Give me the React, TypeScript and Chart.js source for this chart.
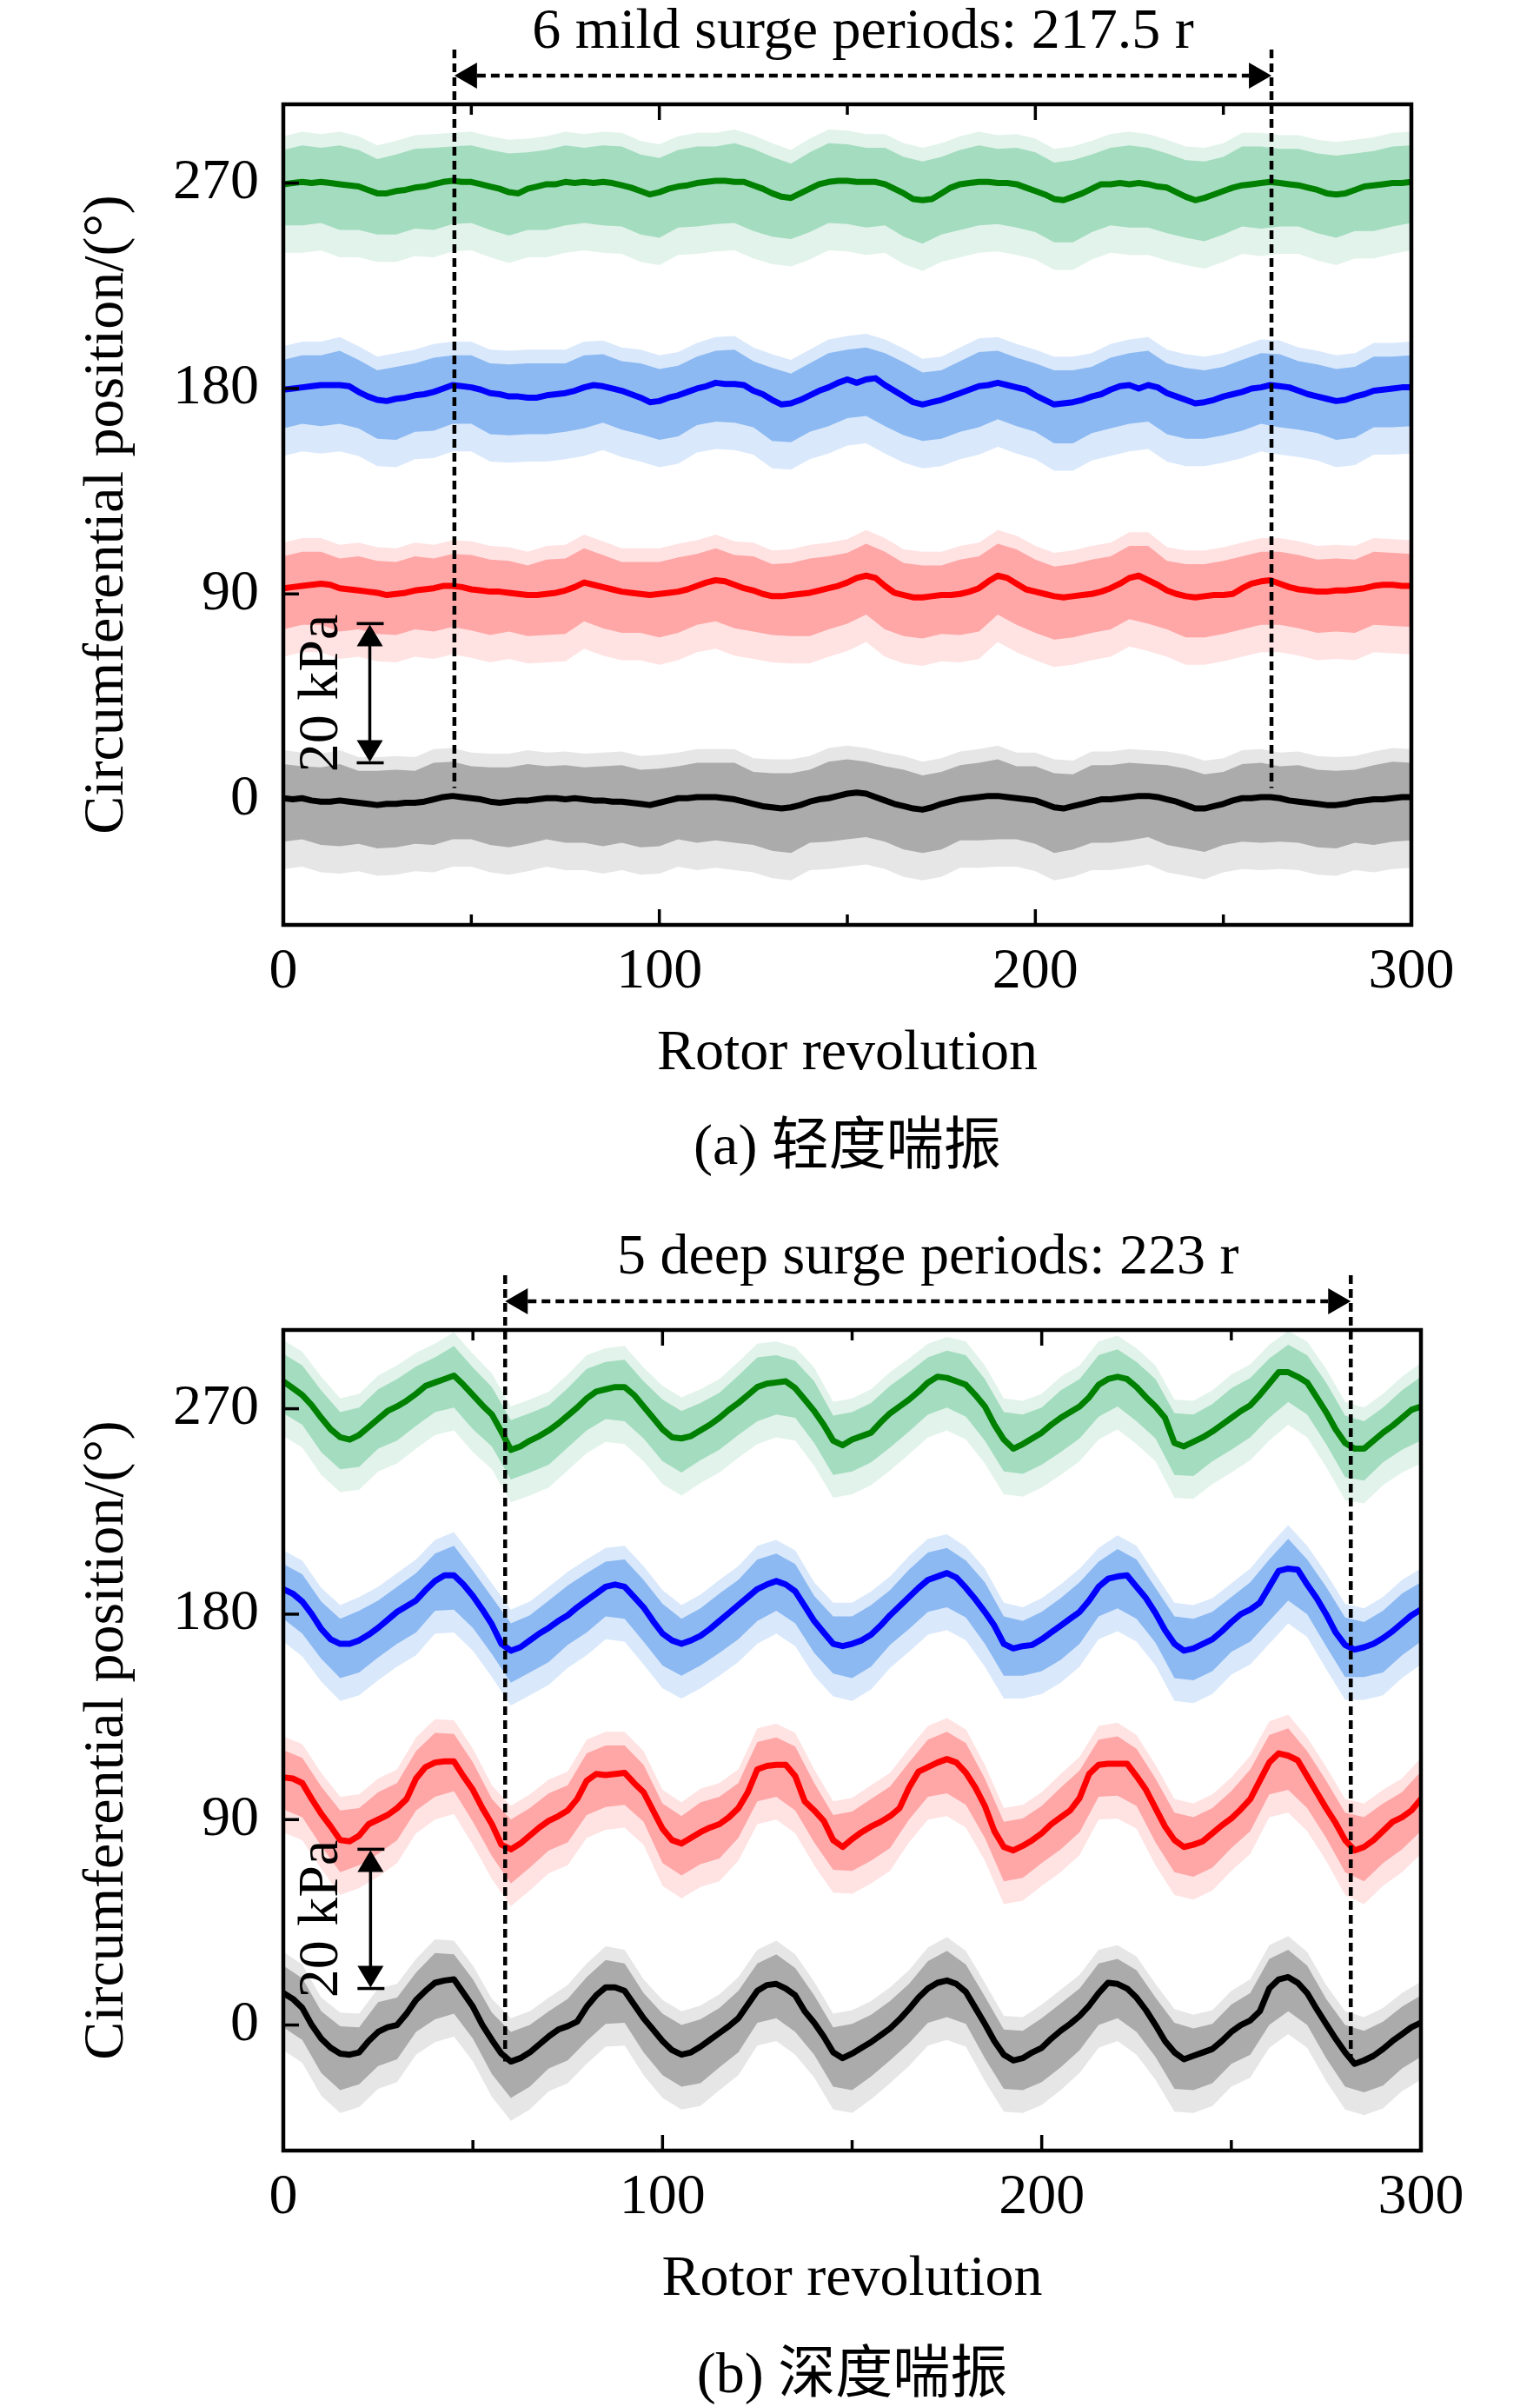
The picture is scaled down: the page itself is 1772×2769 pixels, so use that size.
import React, { useEffect, useRef } from "react";
import { Chart, registerables } from "chart.js";

Chart.register(...registerables);

const FONT = "'Liberation Serif', 'Times New Roman', serif";
const CJK_FONT = "'Liberation Serif', 'Noto Sans CJK SC', serif";

// sampling steps of the arrays below (rotor revolutions)
const LINE_STEP = 2.5;
const BAND_STEP = 5;

const xMajorTicks = [0, 100, 200, 300];
const xMinorTicks = [50, 150, 250];
const yTicks = [0, 90, 180, 270];
const yMin = -55;
const yMax = 304.5;

// ---------- (a) mild surge: smoothed signals, every 2.5 r ----------
const mildGreen = [
  269.5, 270, 270.5, 270, 270.5, 270, 269.5, 269, 268.5, 267,
  265.5, 265.5, 266.5, 267, 268, 268.5, 269.5, 270.5, 271, 270.5,
  270.5, 269.5, 268.5, 267.5, 266, 265.5, 267.5, 268.5, 269.5, 269.5,
  270.5, 270, 270.5, 270, 270.5, 270, 269, 268, 266.5, 265,
  266, 267.5, 268.5, 269, 270, 270.5, 271, 271, 270.5, 270.5,
  269, 267.5, 265.5, 264, 263.5, 265.5, 267.5, 269.5, 270.5, 271,
  271, 270.5, 270.5, 270.5, 269.5, 267.5, 265.5, 263, 262.5, 263,
  265.5, 268, 269.5, 270, 270.5, 270.5, 270, 270, 269.5, 268,
  266.5, 265, 263, 262.5, 264, 265.5, 267.5, 269.5, 269.5, 270,
  269.5, 270, 269.5, 268.5, 268, 266, 264, 262.5, 263.5, 265,
  266.5, 268, 269, 269.5, 270, 270.5, 270, 269.5, 269, 268,
  267, 265.5, 265, 265.5, 267, 268.5, 269, 269.5, 270, 270,
  270.5,
];
const mildBlue = [
  179.5, 180, 180.5, 181, 181.5, 181.5, 181.5, 181, 178.5, 176.5,
  175, 174.5, 175.5, 176, 177, 177.5, 178.5, 180, 181.5, 181,
  180.5, 179.5, 178, 177.5, 176.5, 176.5, 176, 176, 177, 177.5,
  178, 179, 180.5, 181.5, 181, 180, 179, 177.5, 176, 174,
  174.5, 176, 177, 178.5, 180, 181, 182.5, 182, 182, 181.5,
  179, 177.5, 175, 173, 173.5, 175, 177, 179, 180.5, 182.5,
  184, 182.5, 184, 184.5, 181.5, 179, 176.5, 174, 173, 174,
  175, 176.5, 178, 179.5, 181, 181.5, 182.5, 181.5, 180.5, 179.5,
  177, 175, 173, 173.5, 174, 175, 176.5, 177.5, 179.5, 181,
  181.5, 180, 181.5, 180.5, 178, 176.5, 175, 173.5, 174, 175,
  176.5, 177.5, 178.5, 180, 180.5, 181.5, 181, 180.5, 179, 177.5,
  176.5, 175.5, 174.5, 175, 176.5, 177.5, 179, 179.5, 180, 180.5,
  180.5,
];
const mildRed = [
  92.5, 93, 93.5, 94, 94.5, 94, 92.5, 92, 91.5, 91,
  90.5, 89.5, 90, 90.5, 91.5, 92, 92.5, 93.5, 93.5, 93,
  92, 91.5, 91, 91, 90.5, 90, 89.5, 89.5, 90, 90.5,
  91.5, 93, 95, 94, 93, 92, 91, 90.5, 90, 89.5,
  90, 90.5, 91, 92, 93.5, 95, 96, 95.5, 94, 92.5,
  91.5, 90, 89, 89, 89.5, 90, 90.5, 91.5, 92.5, 93.5,
  95, 97, 98, 97, 93.5, 90.5, 89.5, 88.5, 88.5, 89,
  89.5, 89.5, 90, 91, 92.5, 95.5, 98, 97, 94.5, 92,
  91, 90, 89, 88.5, 89, 89.5, 90, 91, 92.5, 94.5,
  97, 98, 96, 94, 91.5, 90, 89, 88.5, 89, 89.5,
  89.5, 90, 92.5, 94.5, 95.5, 96, 94.5, 93, 92, 91.5,
  91, 91, 91.5, 91.5, 92, 92.5, 93.5, 94, 94, 93.5,
  93.5,
];
const mildBlack = [
  0.5, 0, 0.5, -0.5, -1, -1, -0.5, -1, -1.5, -2,
  -2.5, -2, -2, -1.5, -1.5, -1, 0, 1, 1.5, 1,
  0.5, 0, -1, -1.5, -1, -0.5, -0.5, 0, 0.5, 0.5,
  0, 0.5, 0, -0.5, -0.5, -1, -1, -1.5, -2, -2.5,
  -1.5, -0.5, 0.5, 0.5, 1, 1, 1, 0.5, 0, -1,
  -2, -3, -3.5, -4, -3.5, -2.5, -1, 0, 0.5, 1.5,
  2.5, 3, 2.5, 1, -0.5, -2, -3, -4, -4.5, -3.5,
  -2, -1, 0, 0.5, 1, 1.5, 1.5, 1, 0.5, 0,
  -0.5, -2, -3.5, -4, -3, -2, -1, 0, 0, 0.5,
  1, 1.5, 1.5, 1, 0, -1, -2.5, -4, -4, -3,
  -2, -0.5, 0.5, 0.5, 1, 1, 0.5, -0.5, -1, -1.5,
  -2, -2.5, -2.5, -2, -1, -0.5, 0, 0, 0.5, 1,
  1,
];

// (a) dense raw-signal spread above / below the smoothed line, every 5 r
const mildGreenUp = [
  15, 16, 15, 17, 16, 15, 16, 17, 16, 15, 16, 16, 17, 16, 15, 16, 15, 16, 17, 16,
  15, 16, 16, 15, 17, 16, 16, 15, 16, 17, 16, 15, 16, 16, 17, 16, 15, 16, 15, 16,
  17, 16, 16, 15, 16, 17, 16, 15, 16, 16, 15, 17, 16, 15, 16, 16, 17, 16, 15, 16, 16,
];
const mildGreenDown = [
  18, 19, 18, 20, 19, 18, 19, 18, 20, 19, 18, 19, 19, 18, 20, 19, 18, 19, 18, 19,
  20, 18, 19, 19, 18, 20, 19, 18, 19, 18, 19, 20, 18, 19, 19, 18, 20, 19, 18, 19,
  18, 19, 20, 19, 18, 19, 19, 20, 18, 19, 19, 18, 20, 19, 18, 19, 19, 18, 20, 19, 18,
];
const mildBlueUp = [
  13, 14, 13, 15, 14, 13, 14, 14, 15, 13, 14, 13, 14, 15, 14, 13, 14, 14, 13, 15,
  14, 13, 14, 14, 15, 13, 14, 13, 14, 15, 13, 14, 14, 15, 14, 13, 14, 15, 14, 13,
  14, 15, 14, 13, 14, 14, 15, 13, 14, 14, 13, 14, 15, 14, 13, 14, 14, 13, 15, 14, 14,
];
const mildBlueDown = [
  17, 16, 18, 17, 16, 17, 18, 16, 17, 17, 16, 18, 17, 16, 17, 17, 18, 16, 17, 16,
  17, 18, 16, 17, 17, 16, 18, 17, 16, 17, 17, 16, 18, 17, 16, 17, 17, 18, 16, 17,
  16, 17, 18, 16, 17, 17, 16, 18, 17, 16, 17, 17, 16, 18, 17, 16, 17, 18, 16, 17, 17,
];
const mildRedUp = [
  14, 15, 14, 13, 15, 14, 14, 15, 13, 14, 15, 14, 14, 13, 15, 14, 15, 14, 13, 14,
  14, 15, 14, 14, 13, 15, 14, 14, 15, 14, 13, 14, 15, 14, 14, 13, 15, 14, 14, 15,
  14, 13, 14, 15, 14, 14, 15, 13, 14, 14, 15, 14, 13, 14, 15, 14, 14, 13, 15, 14, 14,
];
const mildRedDown = [
  18, 17, 18, 19, 17, 18, 18, 17, 19, 18, 18, 19, 17, 18, 18, 19, 17, 18, 18, 17,
  19, 18, 17, 18, 19, 18, 17, 18, 19, 18, 18, 17, 19, 18, 18, 17, 18, 19, 17, 18,
  18, 19, 18, 17, 18, 18, 19, 17, 18, 18, 17, 18, 19, 18, 17, 18, 18, 19, 17, 18, 18,
];
const mildBlackUp = [
  15, 14, 15, 16, 14, 15, 15, 14, 16, 15, 14, 15, 15, 16, 14, 15, 14, 15, 16, 15,
  15, 14, 15, 15, 16, 14, 15, 15, 14, 16, 15, 14, 15, 16, 15, 14, 15, 15, 16, 14,
  15, 15, 14, 16, 15, 15, 14, 15, 16, 15, 14, 15, 15, 14, 16, 15, 15, 14, 15, 16, 15,
];
const mildBlackDown = [
  19, 18, 19, 20, 18, 19, 19, 18, 20, 19, 18, 19, 20, 19, 18, 19, 19, 20, 18, 19,
  19, 18, 20, 19, 19, 18, 19, 20, 18, 19, 20, 19, 18, 19, 19, 20, 18, 19, 19, 18,
  19, 20, 19, 18, 19, 19, 18, 20, 19, 19, 18, 19, 20, 19, 18, 19, 19, 18, 20, 19, 19,
];
// sparse spikes reach further than the dense spread (values, a)
const mildSpikeReach = { up: 6, down: 12 };

// ---------- (b) deep surge: smoothed signals, every 2.5 r ----------
const deepGreen = [
  282, 279, 276, 271.5, 266, 261, 257.5, 256.5, 258.5, 262,
  265.5, 269, 271, 273.5, 276.5, 280, 281.5, 283, 284.5, 280.5,
  276, 271.5, 267.5, 260, 252, 253.5, 256, 258, 260.5, 263.5,
  267, 270.5, 274.5, 277.5, 278.5, 279.5, 279.5, 276, 271, 266,
  261, 257.5, 257, 258, 260.5, 263, 266, 269.5, 272.5, 276,
  279.5, 281, 281.5, 282, 279, 274, 269, 263, 256, 254,
  256.5, 258, 259.5, 264, 268, 271, 274, 277.5, 281.5, 284,
  283.5, 282, 280.5, 276, 271, 263, 256.5, 252.5, 254.5, 257,
  259.5, 263, 266, 268.5, 271, 275, 280.5, 283, 284, 283,
  279.5, 275, 271, 266, 255, 253.5, 255.5, 257.5, 260, 263,
  266, 269, 271.5, 276, 281, 286, 286, 284, 281.5, 275,
  268.5, 261, 255, 252.5, 252.5, 256, 259.5, 262.5, 266, 269.5,
  271,
];
const deepBlue = [
  191, 189, 185.5, 180, 173.5, 169, 167, 167, 168.5, 171,
  174, 177.5, 181, 183.5, 186, 190.5, 194.5, 197, 197, 193,
  188, 182, 175.5, 167, 164, 165.5, 168.5, 171.5, 174, 177,
  179.5, 183, 186, 189, 192, 193, 192, 187.5, 183, 177,
  171.5, 168.5, 167, 168.5, 170.5, 173.5, 177, 180.5, 184, 187.5,
  191, 193, 194.5, 193, 190, 183.5, 177, 172, 167, 166,
  167, 168.5, 171, 175, 179.5, 183.5, 187.5, 191.5, 195, 196.5,
  198, 196, 191.5, 186.5, 181, 175, 167, 165, 166, 166.5,
  169, 172, 175, 178, 181, 186, 192, 195.5, 196.5, 197,
  192, 187, 180.5, 173, 167, 164, 165, 167, 169, 172.5,
  176.5, 180, 182, 185, 192, 199, 200, 199.5, 193, 187,
  180, 172, 166.5, 164.5, 165.5, 167, 169.5, 172.5, 176, 179.5,
  182,
];
const deepRed = [
  108.5, 108, 106, 99, 92.5, 87, 81, 80.5, 83, 88,
  90, 92, 95, 99, 108, 113, 115, 115.5, 115.5, 109,
  103, 95, 88, 79, 77, 79.5, 83, 86.5, 89.5, 91.5,
  94, 99, 107, 110, 109.5, 110, 110.5, 106, 102, 94,
  86, 81, 79.5, 82, 84.5, 86.5, 88, 91, 95, 102,
  112, 113.5, 114, 114, 109, 98, 94, 89.5, 81, 78,
  81.5, 84.5, 87, 89, 91.5, 95, 104, 111, 113, 115,
  116.5, 115, 110.5, 104, 96, 85, 78, 76.5, 78.5, 81,
  84, 88, 91, 94, 99.5, 110, 114, 114.5, 114.5, 114.5,
  109, 103, 95, 87, 81, 78, 79, 80.5, 84, 87.5,
  90.5, 94.5, 99, 107, 115, 119, 118, 116, 109, 102,
  95, 88.5, 81, 76.5, 78, 81, 85, 89, 91, 94,
  99,
];
const deepBlack = [
  14, 11.5, 7.5, 0, -6, -10, -12.5, -13, -12, -7,
  -3, -1, 0, 5, 11, 15, 18.5, 19.5, 20, 14,
  8, 0, -6.5, -12.5, -16, -14.5, -12, -8.5, -5, -2,
  -0.5, 1.5, 8, 13, 16.5, 16.5, 15, 9, 3, -2,
  -7, -11, -13, -12, -9.5, -6.5, -3.5, -0.5, 3, 9,
  15, 17.5, 18, 16, 13, 6, 1, -5, -12, -14.5,
  -12.5, -10, -7.5, -4.5, -1.5, 2.5, 7, 12, 16, 18.5,
  19.5, 18, 14.5, 7.5, 0.5, -7, -13, -15.5, -14.5, -12,
  -10, -6, -2.5, 0.5, 4, 8.5, 14, 18.5, 18, 16,
  12, 6.5, 0, -7, -12, -15, -13.5, -12, -10.5, -7,
  -3, 0, 2, 6, 16, 20, 21, 18.5, 14, 7,
  0.5, -6, -12, -17, -15.5, -13.5, -10.5, -7, -4, -1,
  1,
];

// (b) dense raw-signal spread above / below the smoothed line, every 5 r
const deepGreenUp = [
  12, 13, 12, 11, 12, 13, 12, 12, 11, 13, 12, 12, 13, 12, 11, 12, 13, 12, 12, 11,
  13, 12, 12, 11, 12, 13, 12, 12, 13, 11, 12, 13, 12, 12, 11, 12, 13, 12, 12, 13,
  11, 12, 12, 13, 12, 11, 12, 13, 12, 12, 13, 12, 11, 12, 12, 13, 12, 12, 11, 12, 13,
];
const deepGreenDown = [
  14, 13, 15, 14, 14, 13, 15, 14, 13, 14, 15, 14, 13, 14, 15, 14, 14, 13, 15, 14,
  14, 15, 13, 14, 14, 15, 14, 13, 14, 15, 14, 13, 15, 14, 14, 13, 14, 15, 14, 13,
  14, 15, 14, 14, 13, 15, 14, 14, 15, 13, 14, 14, 15, 13, 14, 14, 15, 14, 13, 14, 15,
];
const deepBlueUp = [
  11, 12, 12, 11, 13, 12, 11, 12, 12, 13, 11, 12, 12, 11, 12, 13, 12, 11, 12, 12,
  13, 11, 12, 12, 11, 13, 12, 12, 11, 12, 12, 13, 11, 12, 12, 11, 12, 13, 12, 11,
  12, 12, 13, 11, 12, 12, 11, 12, 13, 12, 11, 12, 12, 13, 11, 12, 12, 11, 12, 13, 12,
];
const deepBlueDown = [
  13, 14, 13, 15, 14, 13, 14, 14, 13, 15, 14, 13, 14, 14, 15, 13, 14, 13, 14, 15,
  14, 14, 13, 14, 15, 14, 13, 14, 14, 13, 15, 14, 13, 14, 14, 15, 13, 14, 14, 13,
  14, 15, 14, 13, 14, 14, 13, 15, 14, 14, 13, 14, 15, 14, 13, 14, 14, 13, 15, 14, 14,
];
const deepRedUp = [
  12, 11, 12, 13, 12, 12, 11, 12, 13, 12, 12, 11, 13, 12, 12, 11, 12, 13, 12, 12,
  11, 12, 13, 12, 11, 12, 12, 13, 12, 11, 12, 12, 13, 11, 12, 12, 13, 12, 11, 12,
  12, 13, 12, 11, 12, 12, 13, 12, 12, 11, 12, 13, 12, 12, 11, 12, 12, 13, 12, 11, 12,
];
const deepRedDown = [
  14, 15, 14, 14, 13, 15, 14, 14, 15, 13, 14, 14, 15, 14, 13, 14, 15, 14, 14, 13,
  15, 14, 14, 15, 13, 14, 14, 15, 14, 13, 14, 15, 14, 14, 13, 15, 14, 14, 15, 14,
  13, 14, 15, 14, 14, 13, 15, 14, 14, 15, 13, 14, 14, 15, 14, 13, 14, 15, 14, 14, 14,
];
const deepBlackUp = [
  12, 13, 12, 12, 11, 13, 12, 12, 13, 11, 12, 12, 13, 12, 11, 12, 13, 12, 12, 11,
  12, 13, 12, 11, 12, 12, 13, 12, 12, 11, 13, 12, 12, 11, 12, 13, 12, 12, 11, 12,
  13, 12, 12, 13, 11, 12, 12, 13, 12, 11, 12, 12, 13, 12, 12, 11, 12, 13, 12, 12, 12,
];
const deepBlackDown = [
  15, 14, 15, 16, 14, 15, 15, 14, 16, 15, 14, 15, 16, 15, 14, 15, 15, 16, 14, 15,
  15, 14, 16, 15, 15, 14, 15, 16, 14, 15, 16, 15, 14, 15, 15, 16, 14, 15, 15, 14,
  15, 16, 15, 14, 15, 15, 14, 16, 15, 15, 14, 15, 16, 15, 14, 15, 15, 14, 16, 15, 15,
];
const deepSpikeReach = { up: 6, down: 10 };

// annotation values
const mildPeriod = { start: 45.5, end: 262.8, markerEnd: 5, label: "6 mild surge periods: 217.5 r" };
const deepPeriod = { start: 58.5, end: 281.5, markerEnd: -16, label: "5 deep surge periods: 223 r" };
const scaleBar = { x: 23, top: 77, bottom: 16, label: "20 kPa" };

const COLORS = {
  green: { dark: "#008000", light: "#a4dcbf", fringe: "rgba(164,220,191,0.33)" },
  blue: { dark: "#0000ff", light: "#8cb9f2", fringe: "rgba(140,185,242,0.33)" },
  red: { dark: "#ff0000", light: "#ffa6a6", fringe: "rgba(255,166,166,0.33)" },
  black: { dark: "#000000", light: "#ababab", fringe: "rgba(171,171,171,0.3)" },
};

const framePlugin = {
  id: "surgeFrame",
  afterDatasetsDraw(chart: any, _args: any, opts: any) {
    const { ctx, chartArea, scales } = chart;
    const { left, right, top, bottom } = chartArea;
    const xs = scales.x;
    const ys = scales.y;
    const seg = (x1: number, y1: number, x2: number, y2: number) => {
      ctx.beginPath();
      ctx.moveTo(x1, y1);
      ctx.lineTo(x2, y2);
      ctx.stroke();
    };
    const tri = (pts: number[][]) => {
      ctx.beginPath();
      ctx.moveTo(pts[0][0], pts[0][1]);
      ctx.lineTo(pts[1][0], pts[1][1]);
      ctx.lineTo(pts[2][0], pts[2][1]);
      ctx.closePath();
      ctx.fill();
    };
    ctx.save();
    ctx.strokeStyle = "#000";
    ctx.fillStyle = "#000";
    ctx.setLineDash([]);
    ctx.lineCap = "butt";

    // inward ticks
    ctx.lineWidth = 3.5;
    xMajorTicks.forEach((v) => {
      const p = xs.getPixelForValue(v);
      seg(p, bottom, p, bottom - 18);
      seg(p, top, p, top + 18);
    });
    xMinorTicks.forEach((v) => {
      const p = xs.getPixelForValue(v);
      seg(p, bottom, p, bottom - 12);
      seg(p, top, p, top + 12);
    });
    yTicks.forEach((v) => {
      const p = ys.getPixelForValue(v);
      seg(left, p, left + 18, p);
    });

    // frame
    ctx.lineWidth = 4.5;
    ctx.strokeRect(left, top, right - left, bottom - top);

    // period markers
    const xl = xs.getPixelForValue(opts.start);
    const xr = xs.getPixelForValue(opts.end);
    const yEnd = ys.getPixelForValue(opts.markerEnd);
    ctx.lineWidth = 4.5;
    ctx.setLineDash([10, 6]);
    seg(xl, top - 63, xl, yEnd);
    seg(xr, top - 63, xr, yEnd);
    const ay = top - 33;
    const head = 26;
    const half = 15;
    seg(xl + head, ay, xr - head, ay);
    ctx.setLineDash([]);
    tri([[xl, ay], [xl + head, ay - half], [xl + head, ay + half]]);
    tri([[xr, ay], [xr - head, ay - half], [xr - head, ay + half]]);
    ctx.font = `66px ${FONT}`;
    ctx.textAlign = "center";
    ctx.textBaseline = "alphabetic";
    ctx.fillText(opts.label, (xl + xr) / 2, top - 65);

    // pressure scale bar
    const bx = xs.getPixelForValue(scaleBar.x);
    const y1 = ys.getPixelForValue(scaleBar.top);
    const y2 = ys.getPixelForValue(scaleBar.bottom);
    ctx.lineWidth = 3.5;
    seg(bx - 15, y1, bx + 16, y1);
    seg(bx - 15, y2, bx + 16, y2);
    seg(bx, y1 + 22, bx, y2 - 22);
    tri([[bx, y1 + 1], [bx - 15, y1 + 26], [bx + 15, y1 + 26]]);
    tri([[bx, y2 - 1], [bx - 15, y2 - 26], [bx + 15, y2 - 26]]);
    ctx.save();
    ctx.translate(bx - 38, (y1 + y2) / 2);
    ctx.rotate(-Math.PI / 2);
    ctx.textAlign = "center";
    ctx.textBaseline = "alphabetic";
    ctx.fillText(scaleBar.label, 0, 0);
    ctx.restore();

    ctx.restore();
  },
};

type Series = { values: number[]; up: number[]; down: number[]; dark: string; light: string; fringe: string };

function bandDatasets(upper: any[], lower: any[], color: string, order: number) {
  return [
    {
      data: upper,
      fill: "+1",
      backgroundColor: color,
      borderColor: "rgba(0,0,0,0)",
      borderWidth: 1,
      pointRadius: 0,
      tension: 0,
      order,
    },
    {
      data: lower,
      fill: false,
      backgroundColor: color,
      borderColor: "rgba(0,0,0,0)",
      borderWidth: 1,
      pointRadius: 0,
      tension: 0,
      order,
    },
  ];
}

function SurgePanel({
  top,
  series,
  padRight,
  period,
  reach,
}: {
  top: number;
  series: Series[];
  padRight: number;
  period: any;
  reach: { up: number; down: number };
}) {
  const ref = useRef<HTMLCanvasElement | null>(null);
  useEffect(() => {
    const canvas = ref.current;
    if (!canvas) return;
    const datasets: any[] = [];
    series.forEach((s) => {
      const n = Math.min(s.up.length, s.down.length, Math.floor((s.values.length - 1) / 2) + 1);
      const upper: any[] = [];
      const lower: any[] = [];
      const fUpper: any[] = [];
      const fLower: any[] = [];
      for (let i = 0; i < n; i++) {
        const base = s.values[i * 2];
        const x = i * BAND_STEP;
        upper.push({ x, y: base + s.up[i] });
        lower.push({ x, y: base - s.down[i] });
        fUpper.push({ x, y: base + s.up[i] + reach.up });
        fLower.push({ x, y: base - s.down[i] - reach.down });
      }
      datasets.push(...bandDatasets(fUpper, fLower, s.fringe, 3));
      datasets.push(...bandDatasets(upper, lower, s.light, 2));
    });
    series.forEach((s) => {
      datasets.push({
        data: s.values.map((v, i) => ({ x: i * LINE_STEP, y: v })),
        borderColor: s.dark,
        borderWidth: 7,
        borderJoinStyle: "round",
        borderCapStyle: "round",
        pointRadius: 0,
        fill: false,
        tension: 0,
        order: 1,
      });
    });

    const tickFont = { family: FONT, size: 66 };
    const chart = new Chart(canvas, {
      type: "line",
      data: { datasets },
      options: {
        animation: false,
        responsive: false,
        devicePixelRatio: 1,
        events: [],
        layout: { padding: { left: 0, top: 120, right: padRight, bottom: 0 } },
        plugins: {
          legend: { display: false },
          tooltip: { enabled: false },
          surgeFrame: period,
        } as any,
        scales: {
          x: {
            type: "linear",
            min: 0,
            max: 300,
            afterBuildTicks: (s: any) => {
              s.ticks = xMajorTicks.map((v) => ({ value: v }));
            },
            afterFit: (s: any) => {
              s.height = 216;
            },
            grid: { display: false, drawTicks: false },
            border: { display: false },
            ticks: { color: "#000", font: tickFont, padding: 15, maxRotation: 0, autoSkip: false },
            title: {
              display: true,
              text: "Rotor revolution",
              color: "#000",
              font: tickFont,
              padding: { top: 0, bottom: 28 },
            },
          },
          y: {
            type: "linear",
            min: yMin,
            max: yMax,
            afterBuildTicks: (s: any) => {
              s.ticks = yTicks.map((v) => ({ value: v }));
            },
            afterFit: (s: any) => {
              s.width = 326;
            },
            grid: { display: false, drawTicks: false },
            border: { display: false },
            ticks: { color: "#000", font: tickFont, padding: 28 },
            title: {
              display: true,
              text: "Circumferential position/(°)",
              color: "#000",
              font: tickFont,
              padding: { top: 84, bottom: 0 },
            },
          },
        } as any,
      } as any,
      plugins: [framePlugin],
    });
    return () => chart.destroy();
  }, [series, padRight, period, reach]);

  return (
    <canvas
      ref={ref}
      width={1772}
      height={1280}
      style={{ position: "absolute", left: 0, top, width: 1772, height: 1280 }}
    />
  );
}

const mildSeries: Series[] = [
  { values: mildGreen, up: mildGreenUp, down: mildGreenDown, ...COLORS.green },
  { values: mildBlue, up: mildBlueUp, down: mildBlueDown, ...COLORS.blue },
  { values: mildRed, up: mildRedUp, down: mildRedDown, ...COLORS.red },
  { values: mildBlack, up: mildBlackUp, down: mildBlackDown, ...COLORS.black },
];
const deepSeries: Series[] = [
  { values: deepGreen, up: deepGreenUp, down: deepGreenDown, ...COLORS.green },
  { values: deepBlue, up: deepBlueUp, down: deepBlueDown, ...COLORS.blue },
  { values: deepRed, up: deepRedUp, down: deepRedDown, ...COLORS.red },
  { values: deepBlack, up: deepBlackUp, down: deepBlackDown, ...COLORS.black },
];

const captionStyle = (top: number, left: number, width: number): React.CSSProperties => ({
  position: "absolute",
  left,
  width,
  top,
  height: 80,
  lineHeight: "80px",
  textAlign: "center",
  fontFamily: CJK_FONT,
  fontSize: 66,
  color: "#000",
  whiteSpace: "nowrap",
});

export default function App() {
  return (
    <div
      style={{
        position: "absolute",
        left: 0,
        top: 0,
        width: 1772,
        height: 2769,
        background: "#fff",
        overflow: "hidden",
      }}
    >
      <SurgePanel top={0} series={mildSeries} padRight={148} period={mildPeriod} reach={mildSpikeReach} />
      <div style={captionStyle(1277, 326, 1298)}>(a) 轻度喘振</div>
      <SurgePanel top={1410} series={deepSeries} padRight={137} period={deepPeriod} reach={deepSpikeReach} />
      <div style={captionStyle(2690, 326, 1309)}>(b) 深度喘振</div>
    </div>
  );
}
